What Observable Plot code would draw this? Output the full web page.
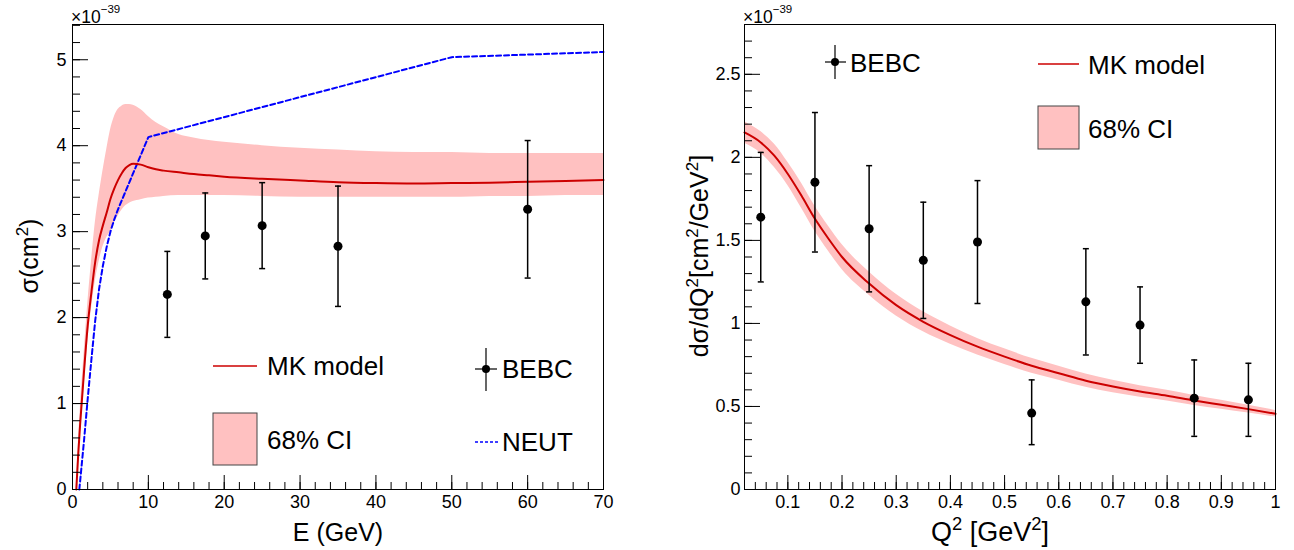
<!DOCTYPE html>
<html><head><meta charset="utf-8">
<script src="https://cdn.jsdelivr.net/npm/d3@7"></script>
<script src="https://cdn.jsdelivr.net/npm/@observablehq/plot@0.6"></script>
<style>
body{margin:0;background:#fff;}
#wrap{display:flex;width:1294px;height:550px;overflow:hidden;}
#wrap svg{display:block;}
</style></head><body><div id="wrap"></div>
<script>
// ---------- Left panel data (sigma in units of 1e-39 cm^2) ----------
const mkE     = [0.5,0.75,1.0,1.25,1.5,2.0,2.5,3.0,3.5,4.0,4.5,5.0,5.5,6.0,6.5,7.0,7.5,8.0,9.0,10,11,12,14,16,18,20,25,30,35,40,45,50,55,60,65,70];
const mkSigma = [0,0.4,0.75,1.05,1.35,1.9,2.3,2.65,2.9,3.07,3.22,3.38,3.5,3.6,3.68,3.74,3.775,3.79,3.78,3.75,3.725,3.71,3.69,3.67,3.655,3.64,3.615,3.595,3.575,3.565,3.56,3.565,3.57,3.58,3.59,3.6];

const bandE  = [0.5,0.75,1.0,1.5,2.0,2.5,3.0,3.5,4.0,4.5,5.0,5.5,6.0,6.5,7.0,7.5,8.0,9.0,10,11,12,14,16,18,20,25,30,35,40,45,50,55,60,65,70];
const bandLo = [0,0.3,0.6,1.15,1.7,2.1,2.42,2.65,2.82,2.93,3.0,3.1,3.18,3.25,3.3,3.33,3.35,3.37,3.39,3.4,3.41,3.42,3.42,3.42,3.42,3.41,3.4,3.4,3.4,3.4,3.4,3.41,3.41,3.42,3.42];
const bandHi = [0,0.5,0.9,1.55,2.15,2.65,3.1,3.42,3.7,3.95,4.18,4.33,4.42,4.46,4.48,4.48,4.47,4.42,4.34,4.27,4.22,4.13,4.09,4.06,4.04,4.0,3.97,3.95,3.93,3.92,3.92,3.91,3.91,3.91,3.91];

const neutE     = [0.9,1.5,2.0,2.5,3.0,3.5,4.0,4.5,5.0,5.5,6.0,7.0,8.0,9.0,10,50,70];
const neutSigma = [0,0.55,1.05,1.52,1.97,2.33,2.6,2.82,3.0,3.14,3.26,3.47,3.68,3.89,4.1,5.03,5.09];

const bebcE     = [12.5,17.5,25,35,60];
const bebcSigma = [2.27,2.95,3.07,2.83,3.26];
const bebcLo    = [1.77,2.45,2.57,2.13,2.46];
const bebcHi    = [2.77,3.45,3.57,3.53,4.06];

// ---------- Right panel data (dsigma/dQ2 in units of 1e-39 cm^2/GeV^2) ----------
const q2Model   = [0.02,0.05,0.075,0.1,0.125,0.15,0.175,0.2,0.25,0.3,0.35,0.4,0.45,0.5,0.55,0.6,0.65,0.7,0.75,0.8,0.85,0.9,0.95,1.0];
const mkDsdq2   = [2.15,2.09,2.01,1.90,1.77,1.63,1.51,1.40,1.24,1.11,1.01,0.93,0.86,0.80,0.745,0.70,0.655,0.62,0.59,0.565,0.536,0.51,0.484,0.456];
const q2BandLo  = [2.085,2.025,1.94,1.83,1.695,1.555,1.435,1.325,1.17,1.045,0.95,0.875,0.81,0.753,0.70,0.658,0.615,0.582,0.555,0.533,0.506,0.483,0.46,0.436];
const q2BandHi  = [2.215,2.155,2.08,1.97,1.845,1.705,1.585,1.475,1.31,1.175,1.07,0.985,0.91,0.847,0.79,0.742,0.695,0.658,0.625,0.597,0.566,0.537,0.508,0.476];

const bebcQ2    = [0.05,0.15,0.25,0.35,0.45,0.55,0.65,0.75,0.85,0.95];
const bebcDs    = [1.64,1.85,1.57,1.38,1.49,0.46,1.13,0.99,0.55,0.54];
const bebcDsLo  = [1.25,1.43,1.19,1.03,1.12,0.27,0.81,0.76,0.32,0.32];
const bebcDsHi  = [2.03,2.27,1.95,1.73,1.86,0.66,1.45,1.22,0.78,0.76];

// ---------- Axes / ticks ----------
const leftXMajor  = [0,10,20,30,40,50,60,70];
const leftYMajor  = [0,1,2,3,4,5];
const leftXLabels = ["0","10","20","30","40","50","60","70"];
const leftYLabels = ["0","1","2","3","4","5"];
const rightXMajor = [0.1,0.2,0.3,0.4,0.5,0.6,0.7,0.8,0.9,1];
const rightYMajor = [0,0.5,1,1.5,2,2.5];
const rightXLabels = ["0.1","0.2","0.3","0.4","0.5","0.6","0.7","0.8","0.9","1"];
const rightYLabels = ["0","0.5","1","1.5","2","2.5"];
const leftXMinor  = d3.range(0, 70.001, 2);
const leftYMinor  = d3.range(0, 5.41, 0.2);
const rightXMinor = d3.range(2, 100.5, 2).map(v => v / 100);
const rightYMinor = d3.range(0, 28.01, 1).map(v => v / 10);

const FONT = '"Liberation Sans", Arial, Helvetica, sans-serif';
const RED = "#cc0000", PINK = "#ffc1c1", BLUE = "#0000ff";

const idx = a => d3.range(a.length);

// cap symbol for error bars
const capSymbol = { draw(ctx, size) { const r = Math.sqrt(size / Math.PI); ctx.moveTo(-r, 0); ctx.lineTo(r, 0); } };

function richText(parent, parts, size) {
  const t = parent.append("text").attr("font-size", size);
  let raised = false;
  for (const [s, sup] of parts) {
    const ts = t.append("tspan").text(s);
    if (sup && !raised) { ts.attr("font-size", size * 0.68).attr("dy", -size * 0.42); raised = true; }
    else if (sup) { ts.attr("font-size", size * 0.68); }
    else if (!sup && raised) { ts.attr("dy", size * 0.42); raised = false; }
  }
  return t;
}

function txt(g, x, y, s) {
  return g.append("text").attr("x", x).attr("y", y).attr("dy", "0.36em")
    .attr("font-size", 26).attr("text-anchor", "start").text(s);
}

function decor(spec) {
  return () => {
    const g = d3.create("svg:g").attr("font-family", FONT).attr("fill", "black");
    // exponent
    const e = g.append("text").attr("x", spec.expX).attr("y", 22.5).attr("font-size", 17.5).attr("text-anchor", "start");
    e.append("tspan").text("×10");
    e.append("tspan").attr("font-size", 11.5).attr("dy", -10).text("−39");
    // x title
    richText(g, spec.xTitle, spec.xSize).attr("x", spec.xTitleX).attr("y", 541).attr("text-anchor", "middle");
    // y title
    richText(g, spec.yTitle, 25).attr("text-anchor", "middle")
      .attr("transform", `translate(${spec.yTitleX},${spec.yTitleY}) rotate(-90)`);
    spec.legend(g);
    return g.node();
  };
}

function axes(xMajor, xMinor, yMajor, yMinor, xLab, yLab, yPad) {
  const common = {stroke: "black", label: null};
  return [
    Plot.axisX({ticks: xMinor, tickSize: -7, tickFormat: () => "", ...common}),
    Plot.axisX({ticks: xMajor, tickSize: -14, tickFormat: () => "", ...common}),
    Plot.axisY({ticks: yMinor, tickSize: -8, tickFormat: () => "", ...common}),
    Plot.axisY({ticks: yMajor, tickSize: -16, tickFormat: () => "", ...common}),
    Plot.text(idx(xMajor), {x: i => xMajor[i], text: i => xLab[i], frameAnchor: "bottom", lineAnchor: "top", dy: 6, fontSize: 18, fill: "black"}),
    Plot.text(idx(yMajor), {y: i => yMajor[i], text: i => yLab[i], frameAnchor: "left", textAnchor: "end", dx: -yPad, fontSize: 18, fill: "black"})
  ];
}

// ---------- Left plot ----------
const left = Plot.plot({
  width: 647, height: 550,
  marginLeft: 72, marginRight: 44, marginTop: 24, marginBottom: 61,
  x: {domain: [0, 70]},
  y: {domain: [0, 5.41]},
  style: {fontFamily: FONT, background: "white", overflow: "visible", color: "black"},
  marks: [
    Plot.areaY(idx(bandE), {x: i => bandE[i], y1: i => bandLo[i], y2: i => bandHi[i], fill: PINK, curve: "monotone-x"}),
    Plot.line(idx(neutE), {x: i => neutE[i], y: i => neutSigma[i], stroke: BLUE, strokeWidth: 2, strokeDasharray: "5,3", curve: "linear"}),
    Plot.line(idx(mkE), {x: i => mkE[i], y: i => mkSigma[i], stroke: RED, strokeWidth: 2, curve: "monotone-x"}),
    Plot.ruleX(idx(bebcE), {x: i => bebcE[i], y1: i => bebcLo[i], y2: i => bebcHi[i], stroke: "black", strokeWidth: 1.5}),
    Plot.dot(idx(bebcE), {x: i => bebcE[i], y: i => bebcLo[i], symbol: capSymbol, r: 3, stroke: "black", strokeWidth: 1.5, fill: "none"}),
    Plot.dot(idx(bebcE), {x: i => bebcE[i], y: i => bebcHi[i], symbol: capSymbol, r: 3, stroke: "black", strokeWidth: 1.5, fill: "none"}),
    Plot.dot(idx(bebcE), {x: i => bebcE[i], y: i => bebcSigma[i], r: 4.5, fill: "black", stroke: "none"}),
    Plot.frame({stroke: "black"}),
    ...axes(leftXMajor, leftXMinor, leftYMajor, leftYMinor, leftXLabels, leftYLabels, 6),
    decor({
      expX: 71, xTitleX: 338, xSize: 25, yTitleX: 38, yTitleY: 256,
      xTitle: [["E (GeV)", 0]],
      yTitle: [["σ(cm", 0], ["2", 1], [")", 0]],
      legend: g => {
        g.append("line").attr("x1", 213).attr("x2", 257).attr("y1", 366).attr("y2", 366).attr("stroke", RED).attr("stroke-width", 1.5);
        txt(g, 267, 366, "MK model");
        g.append("rect").attr("x", 213).attr("y", 413).attr("width", 44).attr("height", 52).attr("fill", PINK).attr("stroke", "#444");
        txt(g, 267, 440, "68% CI");
        g.append("line").attr("x1", 486).attr("x2", 486).attr("y1", 348).attr("y2", 391).attr("stroke", "black").attr("stroke-width", 1.2);
        g.append("line").attr("x1", 475).attr("x2", 497).attr("y1", 369).attr("y2", 369).attr("stroke", "black").attr("stroke-width", 1.2);
        g.append("circle").attr("cx", 486).attr("cy", 369).attr("r", 4);
        txt(g, 502, 369, "BEBC");
        g.append("line").attr("x1", 475).attr("x2", 498).attr("y1", 442).attr("y2", 442).attr("stroke", BLUE).attr("stroke-width", 1.5).attr("stroke-dasharray", "3,2");
        txt(g, 502, 442, "NEUT");
      }
    })
  ]
});

// ---------- Right plot ----------
const OX = 647;
const right = Plot.plot({
  width: 647, height: 550,
  marginLeft: 97, marginRight: 19, marginTop: 24, marginBottom: 61,
  x: {domain: [0.02, 1]},
  y: {domain: [0, 2.8]},
  style: {fontFamily: FONT, background: "white", overflow: "visible", color: "black"},
  marks: [
    Plot.areaY(idx(q2Model), {x: i => q2Model[i], y1: i => q2BandLo[i], y2: i => q2BandHi[i], fill: PINK, curve: "monotone-x"}),
    Plot.line(idx(q2Model), {x: i => q2Model[i], y: i => mkDsdq2[i], stroke: RED, strokeWidth: 2, curve: "monotone-x"}),
    Plot.ruleX(idx(bebcQ2), {x: i => bebcQ2[i], y1: i => bebcDsLo[i], y2: i => bebcDsHi[i], stroke: "black", strokeWidth: 1.5}),
    Plot.dot(idx(bebcQ2), {x: i => bebcQ2[i], y: i => bebcDsLo[i], symbol: capSymbol, r: 3, stroke: "black", strokeWidth: 1.5, fill: "none"}),
    Plot.dot(idx(bebcQ2), {x: i => bebcQ2[i], y: i => bebcDsHi[i], symbol: capSymbol, r: 3, stroke: "black", strokeWidth: 1.5, fill: "none"}),
    Plot.dot(idx(bebcQ2), {x: i => bebcQ2[i], y: i => bebcDs[i], r: 4.5, fill: "black", stroke: "none"}),
    Plot.frame({stroke: "black"}),
    ...axes(rightXMajor, rightXMinor, rightYMajor, rightYMinor, rightXLabels, rightYLabels, 4),
    decor({
      expX: 743 - OX, xTitleX: 990 - OX, xSize: 27, yTitleX: 708 - OX, yTitleY: 256,
      xTitle: [["Q", 0], ["2", 1], [" [GeV", 0], ["2", 1], ["]", 0]],
      yTitle: [["dσ/dQ", 0], ["2", 1], ["[cm", 0], ["2", 1], ["/GeV", 0], ["2", 1], ["]", 0]],
      legend: g => {
        g.append("line").attr("x1", 835 - OX).attr("x2", 835 - OX).attr("y1", 45).attr("y2", 79).attr("stroke", "black").attr("stroke-width", 1.2);
        g.append("line").attr("x1", 825 - OX).attr("x2", 846 - OX).attr("y1", 62).attr("y2", 62).attr("stroke", "black").attr("stroke-width", 1.2);
        g.append("circle").attr("cx", 835 - OX).attr("cy", 62).attr("r", 4);
        txt(g, 850 - OX, 63, "BEBC");
        g.append("line").attr("x1", 1038 - OX).attr("x2", 1079 - OX).attr("y1", 64).attr("y2", 64).attr("stroke", RED).attr("stroke-width", 1.5);
        txt(g, 1088 - OX, 65, "MK model");
        g.append("rect").attr("x", 1038 - OX).attr("y", 106).attr("width", 41).attr("height", 43).attr("fill", PINK).attr("stroke", "#444");
        txt(g, 1088 - OX, 129, "68% CI");
      }
    })
  ]
});

document.getElementById("wrap").append(left, right);
</script>
</body></html>
